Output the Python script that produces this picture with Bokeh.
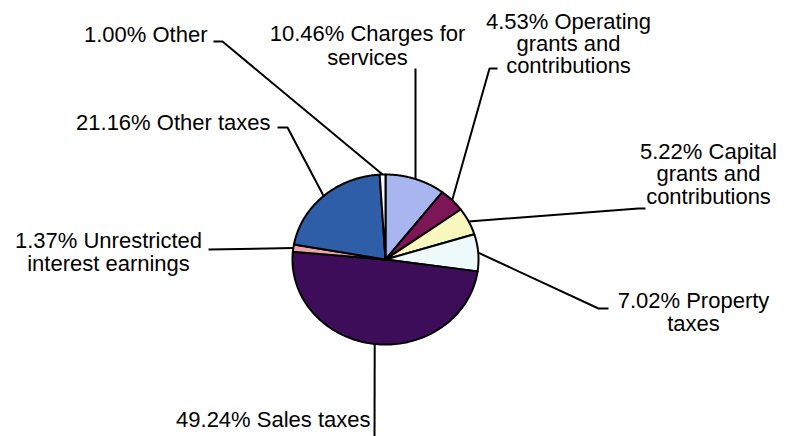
import numpy as np
from bokeh.plotting import figure
from bokeh.models import Range1d, ColumnDataSource
from bokeh.embed import file_html
from bokeh.resources import INLINE
from bokeh.core.properties import value

# ---- data ----
category_lines = [
    ["Charges for", "services"],
    ["Operating", "grants and", "contributions"],
    ["Capital", "grants and", "contributions"],
    ["Property", "taxes"],
    ["Sales taxes"],
    ["Unrestricted", "interest earnings"],
    ["Other taxes"],
    ["Other"],
]
categories = [" ".join(l) for l in category_lines]
percentages = [10.46, 4.53, 5.22, 7.02, 49.24, 1.37, 21.16, 1.00]
colors = ["#A9B5EE", "#7C1656", "#F8F8BE", "#EEF9FB",
          "#3E0D5A", "#F0A2AA", "#2E5EA8", "#F6FAFF"]

# ---- layout (picture pixel coordinates) ----
CX, CY, RX, RY = 385, 259, 93, 85
START_DEG = 90
label_layout = [  # (x, baselines, align)
    (367, [33, 57], "center"),
    (568, [21, 43, 65], "center"),
    (708, [151, 173, 196], "center"),
    (693, [300, 323], "center"),
    (370, [419], "right"),
    (108, [240, 263], "center"),
    (270, [122], "right"),
    (207, [34], "right"),
]
leader_stubs = [
    [(415, 68)],
    [(497, 68), (489, 68)],
    [(645, 208), (638, 208)],
    [(608, 308), (598, 308)],
    [(374, 440)],
    [(208, 249)],
    [(277, 127), (287, 127)],
    [(213, 41), (222, 41)],
]
FONT = "Liberation Sans"
FONT_SIZE = "22px"

p = figure(width=786, height=436, x_range=Range1d(0, 786), y_range=Range1d(436, 0),
           output_backend="svg", toolbar_location=None, min_border=0,
           x_axis_location=None, y_axis_location=None, title=None)
p.grid.visible = False
p.outline_line_color = None
p.background_fill_color = "white"
p.border_fill_color = "white"

cum = np.cumsum([0.0] + percentages)
angles = START_DEG - cum / 100.0 * 360.0
xs, ys, mids = [], [], []
for i in range(len(percentages)):
    t = np.radians(np.linspace(angles[i], angles[i + 1], 120))
    xs.append([CX] + list(CX + RX * np.cos(t)))
    ys.append([CY] + list(CY - RY * np.sin(t)))
    m = np.radians((angles[i] + angles[i + 1]) / 2)
    mids.append((CX + RX * np.cos(m), CY - RY * np.sin(m)))

p.patches(xs=xs, ys=ys, fill_color=colors, line_color="black", line_width=2,
          line_join="round")

# leader lines
lx, ly = [], []
for stubs, edge in zip(leader_stubs, mids):
    pts = stubs + [edge]
    lx.append([pt[0] for pt in pts])
    ly.append([pt[1] for pt in pts])
p.multi_line(xs=lx, ys=ly, line_color="black", line_width=2)

# labels
groups = {}
for lines, pct, (x, bases, align) in zip(category_lines, percentages, label_layout):
    texts = [f"{pct:.2f}% {lines[0]}"] + lines[1:]
    for t, b in zip(texts, bases):
        g = groups.setdefault(align, {"x": [], "y": [], "t": []})
        g["x"].append(x)
        g["y"].append(b)
        g["t"].append(t)
for align, g in groups.items():
    src = ColumnDataSource(dict(x=g["x"], y=g["y"], t=g["t"]))
    p.text(x="x", y="y", text="t", source=src, text_align=align,
           text_baseline="alphabetic", text_font=value(FONT),
           text_font_size=FONT_SIZE, text_color="black")

open("out.html", "w").write(file_html(p, INLINE))
